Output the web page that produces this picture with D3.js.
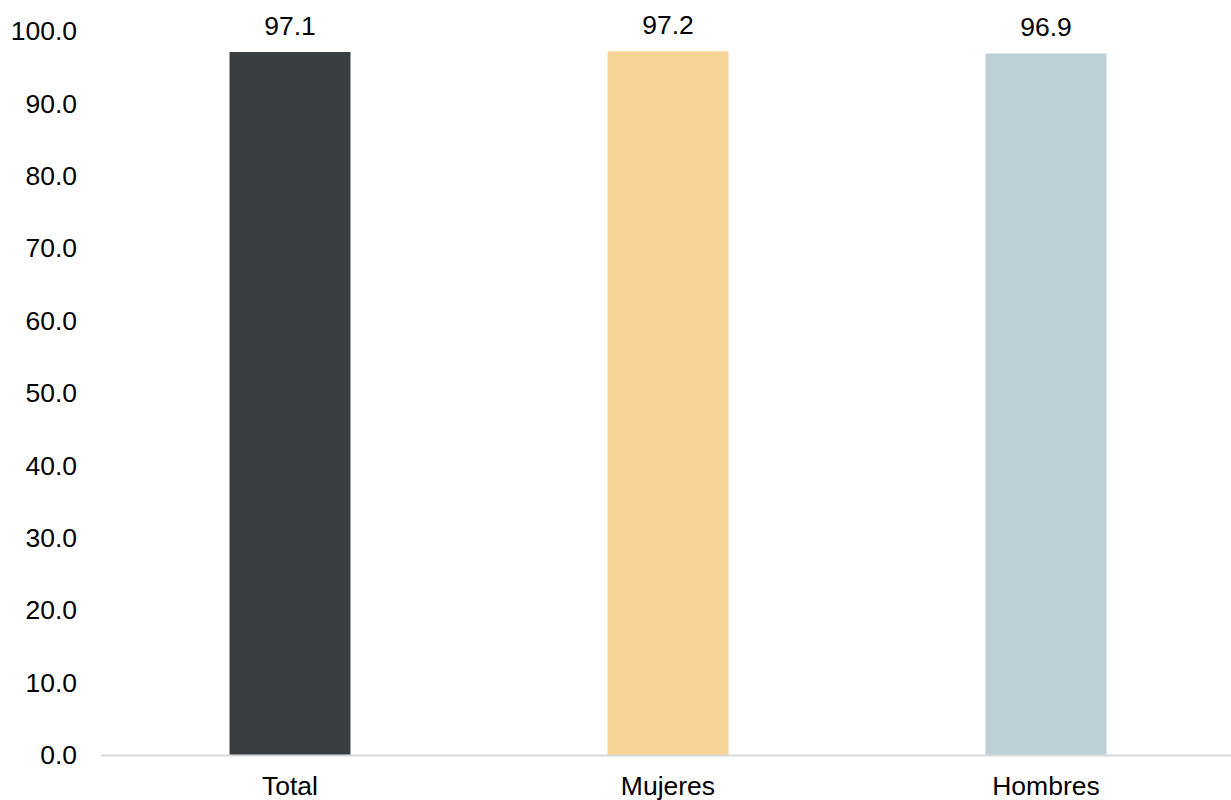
<!DOCTYPE html>
<html><head><meta charset="utf-8">
<script src="https://cdn.jsdelivr.net/npm/d3@7"></script>
<style>body{margin:0;background:#fff}svg{display:block}</style>
</head><body>
<svg id="c" width="1231" height="800"></svg>
<script>
const categories = ["Total", "Mujeres", "Hombres"];
const values = [97.1, 97.2, 96.9];
const colors = ["#3b3e41", "#f8d497", "#bdd0d7"];
const yTicks = [0, 10, 20, 30, 40, 50, 60, 70, 80, 90, 100];

const svg = d3.select("#c");
const font = "Liberation Sans, Arial, sans-serif";
const fs = 26.5;
const x = d3.scaleBand().domain(categories).range([101, 1235]).paddingInner(0.68).paddingOuter(0.34);
const y = d3.scaleLinear().domain([0, 100]).range([755, 31]);

// y axis labels
svg.append("g").selectAll("text").data(yTicks).join("text")
  .attr("x", 77).attr("y", d => y(d)).attr("dy", "0.35em")
  .attr("text-anchor", "end").attr("font-family", font).attr("font-size", fs)
  .attr("fill", "#000").text(d => d3.format(".1f")(d));

// bars
svg.append("g").selectAll("rect").data(values).join("rect")
  .attr("x", (d, i) => x(categories[i])).attr("width", x.bandwidth())
  .attr("y", d => y(d)).attr("height", d => y(0) - y(d))
  .attr("fill", (d, i) => colors[i]);

// baseline
svg.append("line").attr("x1", 101).attr("x2", 1231).attr("y1", 755.5).attr("y2", 755.5)
  .attr("stroke", "#d9d9d9").attr("stroke-width", 2);

// value labels
svg.append("g").selectAll("text").data(values).join("text")
  .attr("x", (d, i) => x(categories[i]) + x.bandwidth() / 2).attr("y", d => y(d) - 17)
  .attr("text-anchor", "middle").attr("font-family", font).attr("font-size", fs)
  .attr("fill", "#000").text(d => d3.format(".1f")(d));

// category labels
svg.append("g").selectAll("text").data(categories).join("text")
  .attr("x", d => x(d) + x.bandwidth() / 2).attr("y", 795)
  .attr("text-anchor", "middle").attr("font-family", font).attr("font-size", fs)
  .attr("fill", "#000").text(d => d);
</script>
</body></html>
